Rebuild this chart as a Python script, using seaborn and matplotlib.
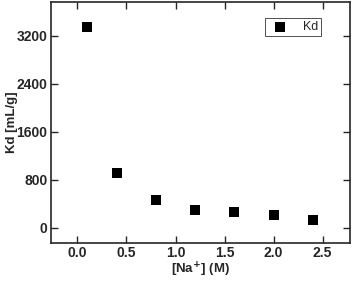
import matplotlib
matplotlib.use('Agg')
import matplotlib.pyplot as plt
import seaborn as sns
import pandas as pd

# values
na_conc = [0.1, 0.4, 0.8, 1.2, 1.6, 2.0, 2.4]
kd = [3340, 920, 470, 300, 270, 220, 140]

df = pd.DataFrame({"Na": na_conc, "Kd": kd})

sns.set_style("ticks")
plt.rcParams['font.family'] = ['Liberation Sans', 'DejaVu Sans']

fig = plt.figure(figsize=(3.54, 2.81), dpi=100)
ax = fig.add_axes([51 / 354, 38 / 281, 299 / 354, 241 / 281])

sns.scatterplot(data=df, x="Na", y="Kd", marker="s", s=55, color="black",
                edgecolor="black", linewidth=0, label="Kd", ax=ax)

ax.set_xlim(-0.27, 2.78)
ax.set_ylim(-250, 3760)
ax.set_xticks([0.0, 0.5, 1.0, 1.5, 2.0, 2.5])
ax.set_yticks([0, 800, 1600, 2400, 3200])
ax.set_xticklabels(["0.0", "0.5", "1.0", "1.5", "2.0", "2.5"])
ax.tick_params(direction="in", length=5, width=1, labelsize=10, top=True, right=True,
               labeltop=False, labelright=False, pad=2.5)
for lab in ax.get_xticklabels() + ax.get_yticklabels():
    lab.set_fontweight("bold")
for sp in ax.spines.values():
    sp.set_linewidth(1.2)
    sp.set_visible(True)

ax.set_xlabel("[Na$^{\\mathbf{+}}$] (M)", fontsize=9.5, fontweight="bold", labelpad=0)
ax.set_ylabel("Kd [mL/g]", fontsize=9.5, fontweight="bold", labelpad=0)
ax.yaxis.set_label_coords(-0.112, 0.5)

leg = ax.legend(loc="upper right", bbox_to_anchor=(0.925, 0.96), frameon=True,
                fancybox=False, edgecolor="black", fontsize=9, handletextpad=0.8,
                borderpad=0.25, markerscale=0.9)
leg.get_frame().set_linewidth(0.6)

plt.savefig("out.png", dpi=100)
plt.close()
